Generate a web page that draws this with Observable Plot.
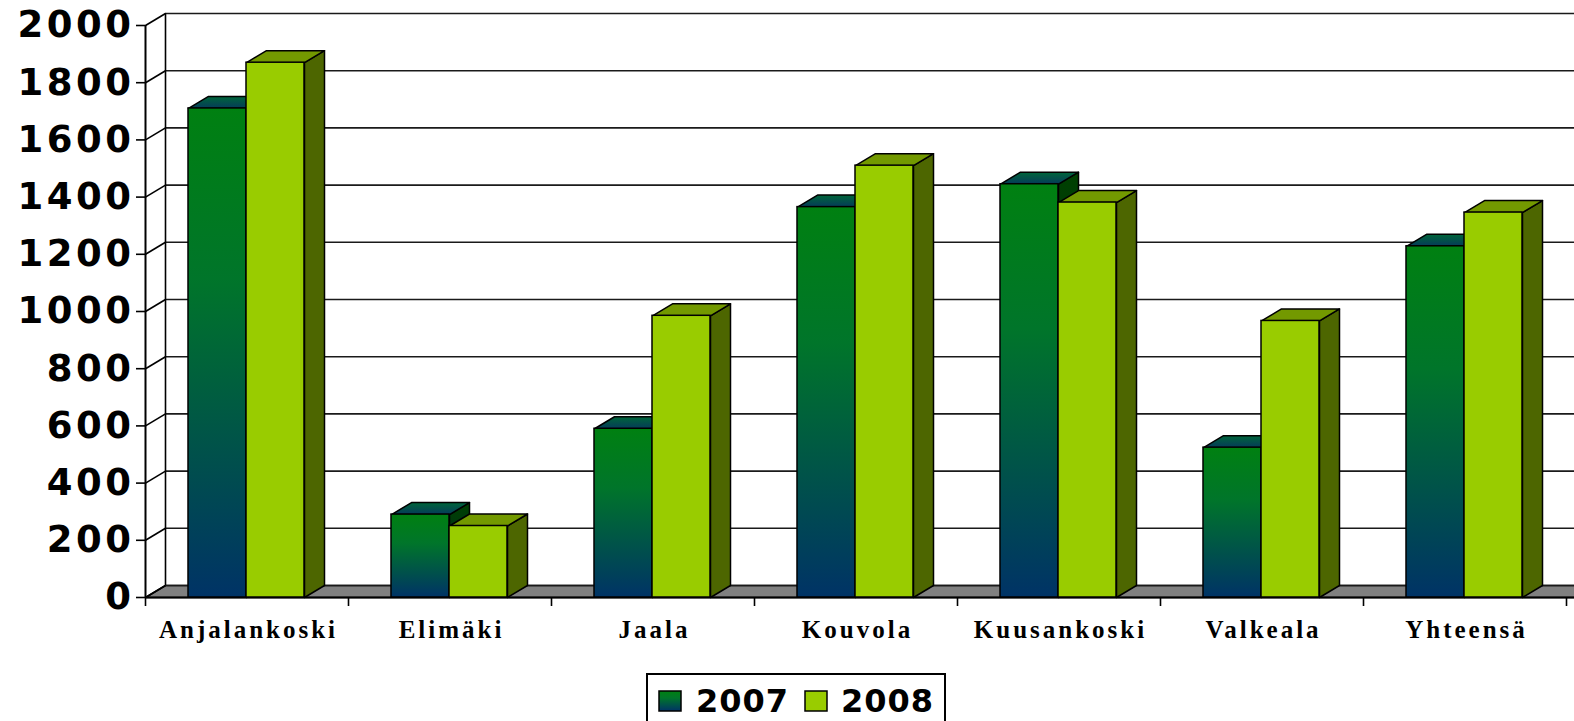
<!DOCTYPE html>
<html><head><meta charset="utf-8">
<script src="https://cdn.jsdelivr.net/npm/d3@7"></script>
<script src="https://cdn.jsdelivr.net/npm/@observablehq/plot@0.6"></script>
<style>
html,body{margin:0;padding:0;background:#fff;overflow:hidden;}
#wrap{position:relative;width:1574px;height:721px;overflow:hidden;background:#fff;}
#chart svg{display:block;}
#legend{position:absolute;left:646px;top:673px;}
#chart g[font-family="DejaVu Sans"] text{letter-spacing:3.5px;}
#chart g[font-family="Liberation Serif"] text{letter-spacing:3px;}
</style>
</head>
<body>
<svg width="0" height="0" style="position:absolute">
  <defs>
    <linearGradient id="g07front" x1="0" y1="0" x2="0" y2="1">
      <stop offset="0" stop-color="#008011"/>
      <stop offset="0.35" stop-color="#00752a"/>
      <stop offset="1" stop-color="#003366"/>
    </linearGradient>
    <linearGradient id="g07top" x1="0" y1="0" x2="0" y2="1">
      <stop offset="0" stop-color="#00663a"/>
      <stop offset="1" stop-color="#053a5a"/>
    </linearGradient>
    <linearGradient id="g07side" x1="0" y1="0" x2="0" y2="1">
      <stop offset="0" stop-color="#004000"/>
      <stop offset="1" stop-color="#00203a"/>
    </linearGradient>
  </defs>
</svg>
<div id="wrap">
  <div id="chart"></div>
  <svg id="legend" width="302" height="50">
    <rect x="1" y="1" width="298" height="60" fill="#fff" stroke="#000" stroke-width="2"/>
    <rect x="13" y="18" width="22" height="20" fill="url(#g07front)" stroke="#000" stroke-width="1.5"/>
    <text x="50" y="39" font-family="DejaVu Sans" font-weight="bold" font-size="32" letter-spacing="1">2007</text>
    <rect x="159" y="18" width="22" height="20" fill="#99cc00" stroke="#000" stroke-width="1.5"/>
    <text x="195" y="39" font-family="DejaVu Sans" font-weight="bold" font-size="32" letter-spacing="1">2008</text>
  </svg>
</div>
<script>
// ---- data ----
const categories = ["Anjalankoski", "Elimäki", "Jaala", "Kouvola", "Kuusankoski", "Valkeala", "Yhteensä"];
const values2007 = [1710, 290, 590, 1365, 1445, 524, 1228];
const values2008 = [1870, 250, 985, 1510, 1381, 967, 1346];
const yTicks = [0, 200, 400, 600, 800, 1000, 1200, 1400, 1600, 1800, 2000];

// ---- layout ----
const W = 1574, H = 657, ML = 145, MR = 8, MT = 25, MB = 60;
const n = categories.length;
const PX = n / (W - ML - MR);          // data units per pixel (x)
const PY = 2000 / (H - MT - MB);       // data units per pixel (y)
const DX = 20 * PX, DY = 12 * PY;      // 3D depth offset
const B0 = 43 * PX, BW = 58 * PX;      // bar offset and width in band
const XEND = n + DX + 0.2;

const seriesList = [
  {key: "2007", values: values2007, front: "url(#g07front)", top: "url(#g07top)", side: "url(#g07side)"},
  {key: "2008", values: values2008, front: "#99cc00", top: "#739900", side: "#4d6600"}
];

function faces(si) {
  const s = seriesList[si];
  const fronts = [], tops = [], sides = [];
  categories.forEach((c, i) => {
    const v = s.values[i];
    const x1 = i + B0 + si * BW, x2 = x1 + BW;
    fronts.push({x1, x2, y1: 0, y2: v});
    const tid = c + "-t";
    tops.push({id: tid, x: x1, y: v}, {id: tid, x: x2, y: v}, {id: tid, x: x2 + DX, y: v + DY}, {id: tid, x: x1 + DX, y: v + DY});
    const sid = c + "-s";
    sides.push({id: sid, x: x2, y: 0}, {id: sid, x: x2 + DX, y: DY}, {id: sid, x: x2 + DX, y: v + DY}, {id: sid, x: x2, y: v});
  });
  return {fronts, tops, sides};
}
const f07 = faces(0), f08 = faces(1);

const floor = [{id: "f", x: 0, y: 0}, {id: "f", x: DX, y: DY}, {id: "f", x: XEND, y: DY}, {id: "f", x: XEND, y: 0}];
const poly = (data, fill) => Plot.line(data, {x: "x", y: "y", z: "id", fill, stroke: "#000", strokeWidth: 1.5, curve: "linear-closed"});

const chart = Plot.plot({
  width: W, height: H,
  marginLeft: ML, marginRight: MR, marginTop: MT, marginBottom: MB,
  x: {domain: [0, n], axis: null},
  y: {domain: [0, 2000], axis: null},
  style: {background: "transparent", overflow: "visible"},
  marks: [
    // floor
    poly(floor, "#808080"),
    // back wall gridlines
    Plot.ruleY(yTicks, {y: d => d + DY, x1: DX, x2: XEND, stroke: "#1a1a1a", strokeWidth: 1.6}),
    // left wall
    Plot.link(yTicks, {x1: 0, y1: d => d, x2: DX, y2: d => d + DY, stroke: "#000", strokeWidth: 1.6}),
    Plot.ruleX([0], {y1: 0, y2: 2000, stroke: "#000", strokeWidth: 2}),
    Plot.ruleX([DX], {y1: DY, y2: 2000 + DY, stroke: "#000", strokeWidth: 1.6}),
    // y ticks and labels
    Plot.ruleY(yTicks, {x1: -9 * PX, x2: 0, stroke: "#000", strokeWidth: 1.6}),
    Plot.text(yTicks, {x: 0, y: d => d, text: d => String(d), textAnchor: "end", dx: -11,
      fontFamily: "DejaVu Sans", fontWeight: "bold", fontSize: 37, fill: "#000"}),
    // x axis line and ticks
    Plot.ruleY([0], {x1: 0, x2: XEND, stroke: "#000", strokeWidth: 2}),
    Plot.ruleX(d3.range(n + 1), {x: d => d, y1: 0, y2: -9 * PY, stroke: "#000", strokeWidth: 1.6}),
    // bars: sides, tops, fronts
    poly(f07.sides, seriesList[0].side),
    poly(f08.sides, seriesList[1].side),
    poly(f07.tops, seriesList[0].top),
    poly(f08.tops, seriesList[1].top),
    Plot.rect(f07.fronts, {x1: "x1", x2: "x2", y1: "y1", y2: "y2", fill: seriesList[0].front, stroke: "#000", strokeWidth: 1.5}),
    Plot.rect(f08.fronts, {x1: "x1", x2: "x2", y1: "y1", y2: "y2", fill: seriesList[1].front, stroke: "#000", strokeWidth: 1.5}),
    // category labels
    Plot.text(categories, {x: (d, i) => i + 0.5, y: 0, text: d => d, dy: 32, dx: 1.5,
      fontFamily: "Liberation Serif", fontWeight: "bold", fontSize: 25, fill: "#000"})
  ]
});
document.getElementById("chart").appendChild(chart);
</script>
</body></html>
